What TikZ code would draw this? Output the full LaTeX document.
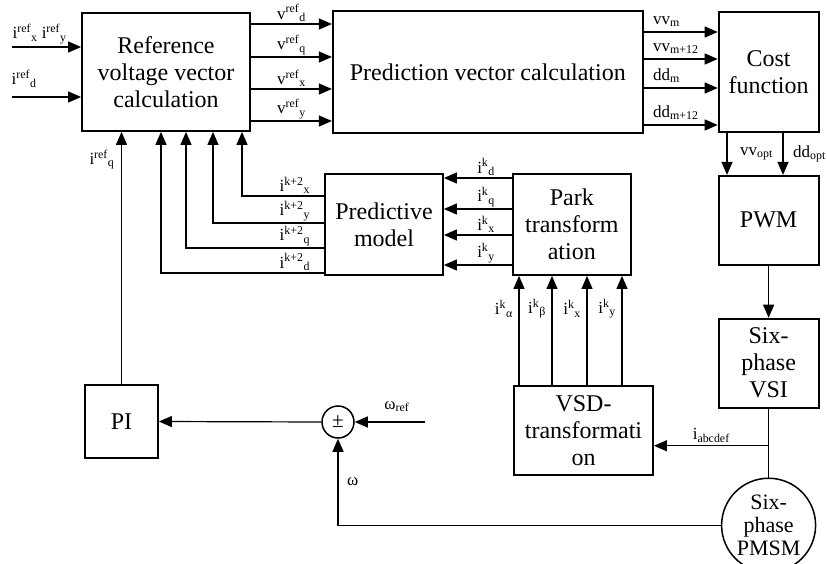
\documentclass[tikz,border=0pt]{standalone}
\usepackage{fontspec}
\setmainfont{Liberation Serif}
\usetikzlibrary{
  arrows.meta,
  calc,
  positioning
}
\newcommand{\blockfont}{\fontsize{24}{27}\selectfont}
\newcommand{\labelfont}{\fontsize{17}{19}\selectfont}
\newcommand{\supsub}[3]{#1\textsuperscript{#2}\textsubscript{#3}}

\begin{document}
\begin{tikzpicture}[
  x=1pt, y=-1pt,
  font=\blockfont,
  block/.style={
    draw,
    line width=1.8pt,
    fill=white,
    align=center,
    inner sep=2pt
  },
  motor/.style={
    draw,
    circle,
    line width=1.5pt,
    fill=white,
    align=center,
    inner sep=0pt,
    minimum size=94pt,
    font=\fontsize{22}{23}\selectfont
  },
  summer/.style={
    draw,
    circle,
    line width=1.5pt,
    inner sep=0pt,
    minimum size=32pt,
    font=\fontsize{21}{22}\selectfont
  },
  siglabel/.style={
    font=\labelfont,
    inner sep=1.5pt
  },
  flow/.style={
    -{Triangle[length=13pt,width=11pt]},
    line width=1.2pt
  },
  wire/.style={
    line width=1.2pt
  }
]

\useasboundingbox (0,0) rectangle (827,564);

% Top row
\node[block, minimum width=168pt, minimum height=118pt] (refcalc) at (166,72) {Reference\\voltage vector\\calculation};
\node[block, minimum width=310pt, minimum height=122pt, right=81pt of refcalc] (predvec) {Prediction vector calculation};
\node[block, minimum width=100pt, minimum height=120pt, right=74pt of predvec] (cost) {Cost\\function};

% Inverter column
\node[block, minimum width=100pt, minimum height=89pt, below=42pt of cost] (pwm) {PWM};
\node[block, minimum width=100pt, minimum height=89pt, below=52pt of pwm] (vsi) {Six-\\phase\\VSI};
\node[motor, below=69pt of vsi] (pmsm) {Six-\\phase\\PMSM};

% Prediction row
\node[block, minimum width=118pt, minimum height=101pt] (predmod) at (384,224.5) {Predictive\\model};
\node[block, minimum width=118pt, minimum height=101pt, right=68pt of predmod] (park) {Park\\transform\\ation};

% Speed loop and VSD
\node[block, minimum width=139pt, minimum height=89pt] (vsd) at (583.5,430.5) {VSD-\\transformati\\on};
\node[block, minimum width=73pt, minimum height=73pt] (pi) at (121.5,421.5) {PI};
\node[summer] (sum) at (338,422) {±};

\coordinate (inxy) at (12,47);
\coordinate (ind) at (12,97);
\coordinate (wref) at (425,422);

% Reference inputs
\draw[flow] (inxy) -- (inxy -| refcalc.west)
  node[siglabel, pos=0.4, above, yshift=1pt] (irefxy) {\supsub{i}{ref}{x} \supsub{i}{ref}{y}};
\draw[flow] (ind) -- (ind -| refcalc.west);
\node[siglabel, anchor=west] (irefd) at (10,79) {\supsub{i}{ref}{d}};

% Reference voltages
\foreach \y/\s in {24/d, 57/q, 89/x, 121/y}
  \draw[flow] (refcalc.east |- 0,\y) -- (predvec.west |- 0,\y)
    node[siglabel, midway, above] (vref-\s) {\supsub{v}{ref}{\s}};

% Candidate vectors and durations
\foreach \y/\txt [count=\n] in {32/{vv\textsubscript{m}}, 59/{vv\textsubscript{m+12}}, 88/{dd\textsubscript{m}}, 125/{dd\textsubscript{m+12}}}
  \draw[flow] (predvec.east |- 0,\y) -- (cost.west |- 0,\y)
    node[siglabel, pos=0.1, above right, yshift=3pt] (cand-\n) {\txt};

% Optimal vector to the inverter
\draw[flow] (cost.south -| 727,0) -- (pwm.north -| 727,0)
  node[siglabel, midway, right, xshift=11pt] (vvopt) {vv\textsubscript{opt}};
\draw[flow] (cost.south -| 783,0) -- (pwm.north -| 783,0)
  node[siglabel, midway, right, xshift=8pt] (ddopt) {dd\textsubscript{opt}};
\draw[flow] (pwm) -- (vsi);
\draw[wire] (vsi) -- coordinate[pos=0.54] (tap) (pmsm);
\draw[flow] (tap) -- (tap -| vsd.east)
  node[siglabel, midway, above, yshift=1pt] (iabc) {i\textsubscript{abcdef}};

% Speed loop
\draw[flow] (wref) -- (sum.east)
  node[siglabel, pos=0.4, above, yshift=8pt] (wreflbl) {ω\textsubscript{ref}};
\draw[flow] (pmsm.west) -| (sum.south)
  node[siglabel, pos=0.75, right, xshift=7pt] (wlbl) {ω};
\draw[flow] (sum.west) -- (pi.east);
\draw[flow] (pi.north) -- (pi.north |- refcalc.south)
  node[siglabel, pos=0.89, left, xshift=-5pt] (irefq) {\supsub{i}{ref}{q}};

% Predicted currents back to the reference block
\foreach \y/\x/\s in {196/242/x, 223/213/y, 248/186/q, 273/161/d}
  \draw[flow] (predmod.west |- 0,\y) -| (refcalc.south -| \x,0)
    node[siglabel, pos=0, above left, xshift=-12pt] (ipred-\s) {\supsub{i}{k+2}{\s}};

% Measured currents
\foreach \y/\s in {178/d, 209/q, 235/x, 265/y}
  \draw[flow] (park.west |- 0,\y) -- (predmod.east |- 0,\y)
    node[siglabel, pos=0.38, above] (imeas-\s) {\supsub{i}{k}{\s}};

\foreach \x/\s [count=\n] in {519/α, 552/β, 587/x, 622/y}
  \draw[flow] (vsd.north -| \x,0) -- (park.south -| \x,0)
    node[siglabel, pos=0.7, left, xshift=-4pt] (istat-\n) {\supsub{i}{k}{\s}};

\end{tikzpicture}
\end{document}
